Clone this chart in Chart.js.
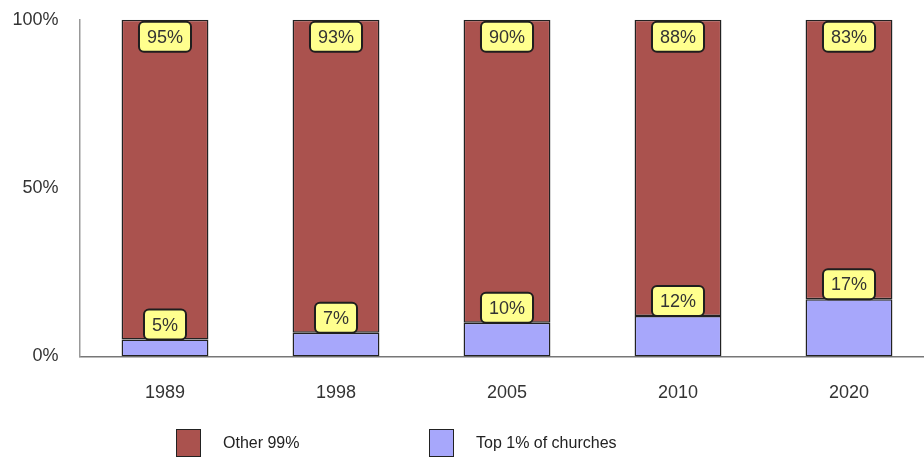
<!DOCTYPE html>
<html>
<head>
<meta charset="utf-8">
<script src="https://cdn.jsdelivr.net/npm/chart.js@4.4.1/dist/chart.umd.min.js"></script>
<style>
  html, body { margin: 0; padding: 0; background: #fff; overflow: hidden; }
  #wrap { position: relative; width: 936px; height: 458px; overflow: hidden; }
  #chartBox { position: absolute; left: 0; top: -12px; width: 936px; height: 442px; }
  #legend { position: absolute; left: 0; top: 428px; width: 924px; height: 30px;
            font: 16px "Liberation Sans", Arial, sans-serif; color: #222; }
  .item { position: absolute; top: 0; display: flex; align-items: center; height: 29px; }
  .swatch { width: 23px; height: 26px; border: 1.5px solid #222; box-sizing: content-box; }
  .item span { margin-left: 22px; }
</style>
</head>
<body>
<div id="wrap">
  <div id="chartBox"><canvas id="chart"></canvas></div>
  <div id="legend"></div>
</div>
<script>
// --- DATOS ---
const years = ["1989", "1998", "2005", "2010", "2020"];
const top1 = [5, 7, 10, 12, 17];
const other99 = [95, 93, 90, 88, 83];
const yTicks = [0, 50, 100];

const FONT = '"Liberation Sans", Arial, sans-serif';

// etiquetas amarillas sobre las barras
const boxLabels = {
    id: "boxLabels",
    afterDatasetsDraw(chart) {
        const ctx = chart.ctx;
        ctx.save();
        ctx.font = "18px " + FONT;
        ctx.textAlign = "center";
        ctx.textBaseline = "middle";
        chart.data.datasets.forEach((ds, di) => {
            chart.getDatasetMeta(di).data.forEach((bar, i) => {
                const txt = ds.data[i] + "%";
                const w = ctx.measureText(txt).width + 16;
                const h = 30;
                // serie de arriba: dentro, pegada al tope; serie de abajo: encima de la barra
                const top = ds.labelInside ? bar.y + 2 : bar.y - h;
                const left = bar.x - w / 2;
                ctx.beginPath();
                ctx.roundRect(left, top, w, h, 5);
                ctx.fillStyle = "#ffff8e";
                ctx.fill();
                ctx.lineWidth = 2;
                ctx.strokeStyle = "#1e1e1e";
                ctx.stroke();
                ctx.fillStyle = "#333";
                ctx.fillText(txt, bar.x, top + h / 2 + 1);
            });
        });
        ctx.restore();
    }
};

const chart = new Chart(document.getElementById("chart"), {
    type: "bar",
    data: {
        labels: years,
        datasets: [
            {
                label: "Top 1% of churches",
                data: top1,
                backgroundColor: "#a7a7fb",
                borderColor: "#222",
                borderWidth: 1.5,
                borderSkipped: false,
                labelInside: false
            },
            {
                label: "Other 99%",
                data: other99,
                backgroundColor: "#aa524e",
                borderColor: "#222",
                borderWidth: 1.5,
                borderSkipped: false,
                labelInside: true
            }
        ]
    },
    options: {
        responsive: true,
        maintainAspectRatio: false,
        animation: false,
        categoryPercentage: 1,
        barPercentage: 0.508,
        layout: { padding: { top: 0, right: 1.5, bottom: 0, left: 0 } },
        plugins: { legend: { display: false }, tooltip: { enabled: false } },
        scales: {
            x: {
                stacked: true,
                grid: { display: false, drawTicks: false },
                border: { display: true, color: "#777", width: 1.5 },
                ticks: { color: "#333", padding: 26, font: { family: FONT, size: 18 } }
            },
            y: {
                stacked: true,
                min: 0,
                max: 100,
                afterFit(scale) { scale.width = 79.5; },
                afterBuildTicks(scale) { scale.ticks = yTicks.map(v => ({ value: v })); },
                grid: { display: false, drawTicks: false },
                border: { display: true, color: "#999", width: 1.5 },
                ticks: {
                    color: "#333",
                    padding: 21,
                    font: { family: FONT, size: 18 },
                    callback: v => v + "%"
                }
            }
        }
    },
    plugins: [boxLabels]
});

// --- LEYENDA (HTML) ---
const legendPos = [176, 429];
const legendEl = document.getElementById("legend");
chart.data.datasets.slice().reverse().forEach((ds, i) => {
    const item = document.createElement("div");
    item.className = "item";
    item.style.left = legendPos[i] + "px";
    item.innerHTML = `<div class="swatch" style="background:${ds.backgroundColor}"></div><span>${ds.label}</span>`;
    legendEl.appendChild(item);
});
</script>
</body>
</html>
